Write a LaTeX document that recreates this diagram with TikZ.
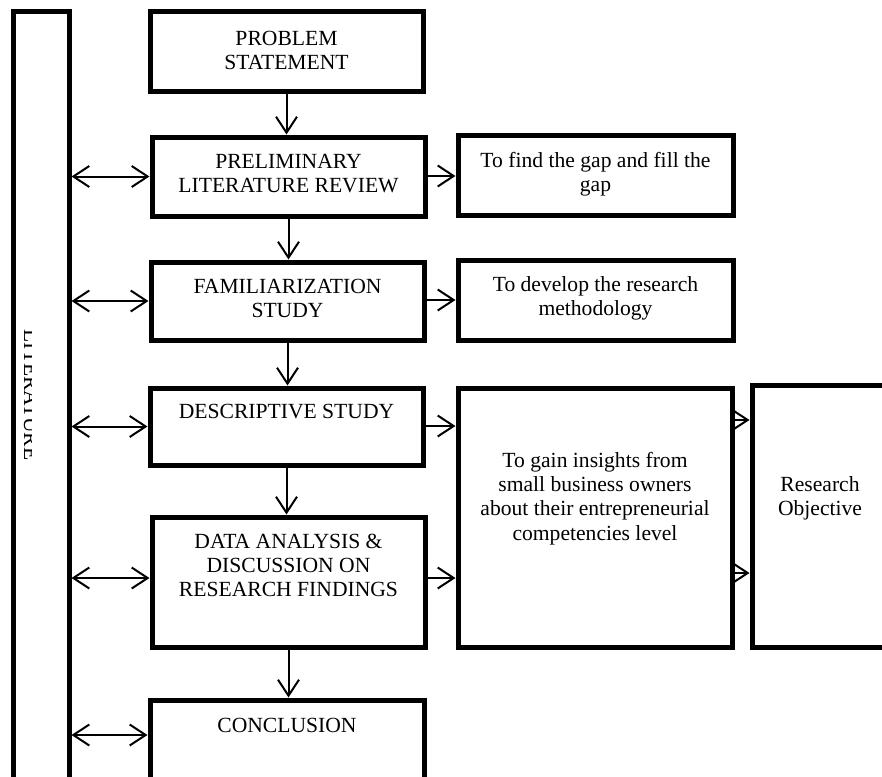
\documentclass[tikz,border=0pt]{standalone}
\usepackage{fontspec}
\setmainfont{Liberation Serif}
\usetikzlibrary{arrows.meta}
\begin{document}
\begin{tikzpicture}[x=1pt,y=-1pt,
  box/.style={draw, line width=5pt, rectangle, inner sep=0pt},
  txt/.style={align=center, inner sep=0pt, font=\fontsize{21.6}{24.2}\selectfont},
  tipv/.style={},
  arr/.style={line width=2pt, -{Straight Barb[length=16pt,width=21pt]}},
  dbl/.style={line width=2pt, {Straight Barb[length=16pt,width=21pt]}-{Straight Barb[length=16pt,width=21pt]}}]
\useasboundingbox (0,0) rectangle (882,776);
\clip (0,0) rectangle (882,776);
% literature column
\node[box, minimum width=56pt, minimum height=788pt] (lit) at (41,406) {};
\begin{scope}
  \clip (0,0) rectangle (31,776);
  \node[txt, rotate=-90, anchor=base] (littxt) at (24,395) {LITERATURE};
\end{scope}
% main column
\node[box, minimum width=273pt, minimum height=79pt] (prob) at (286.5,51.5) {};
\node[box, minimum width=273pt, minimum height=79pt] (prel) at (288.5,176.5) {};
\node[box, minimum width=273pt, minimum height=78pt] (fam) at (287.5,301) {};
\node[box, minimum width=273pt, minimum height=77pt] (desc) at (286.5,426.5) {};
\node[box, minimum width=273pt, minimum height=130pt] (data) at (288.5,582) {};
\node[box, minimum width=274pt, minimum height=100pt] (conc) at (287,750) {};
% right column
\node[box, minimum width=275pt, minimum height=80pt] (gap) at (595.5,175) {};
\node[box, minimum width=275pt, minimum height=80pt] (meth) at (595.5,300) {};
\node[box, minimum width=274pt, minimum height=259pt] (ins) at (595,517.5) {};
\node[box, minimum width=136pt, minimum height=262pt] (ro) at (820,516) {};
% texts
\node[txt] (probt) at (286.5,50.5) {PROBLEM\\STATEMENT};
\node[txt] (prelt) at (288.5,173.5) {PRELIMINARY\\LITERATURE REVIEW};
\node[txt] (famt) at (287.5,298.5) {FAMILIARIZATION\\STUDY};
\node[txt] (desct) at (286.5,412) {DESCRIPTIVE STUDY};
\node[txt] (datat) at (288.5,565.5) {DATA ANALYSIS \&\\DISCUSSION ON\\RESEARCH FINDINGS};
\node[txt] (conct) at (287,725) {CONCLUSION};
\node[txt] (gapt) at (595.5,174) {To find the gap and fill the\\gap};
\node[txt] (metht) at (595.5,298) {To develop the research\\methodology};
\node[txt] (inst) at (595,498.5) {To gain insights from\\small business owners\\about their entrepreneurial\\competencies level};
\node[txt] (rot) at (820,498) {Research\\Objective};
% vertical flow
\draw[arr] (prob.south) -- (prob.south |- prel.north);
\draw[arr] (prel.south) -- (prel.south |- fam.north);
\draw[arr] (fam.south) -- (fam.south |- desc.north);
\draw[arr] (desc.south) -- (desc.south |- data.north);
\draw[arr] (data.south) -- (data.south |- conc.north);
% literature links
\draw[dbl] (lit.east |- prel.west) -- (prel.west);
\draw[dbl] (lit.east |- fam.west) -- (fam.west);
\draw[dbl] (lit.east |- desc.west) -- (desc.west);
\draw[dbl] (lit.east |- 0,578) -- (data.west |- 0,578);
\draw[dbl] (lit.east |- 0,735) -- (conc.west |- 0,735);
% right links
\draw[arr] (prel.east |- 0,176) -- (gap.west |- 0,176);
\draw[arr] (fam.east |- 0,300) -- (meth.west |- 0,300);
\draw[arr] (desc.east |- 0,426) -- (ins.west |- 0,426);
\draw[arr] (data.east |- 0,578) -- (ins.west |- 0,578);
\draw[arr] (ins.east |- 0,420) -- (ro.west |- 0,420);
\draw[arr] (ins.east |- 0,573) -- (ro.west |- 0,573);
\end{tikzpicture}
\end{document}
